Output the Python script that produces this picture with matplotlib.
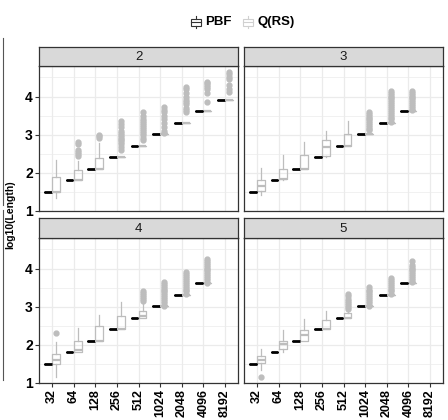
import numpy as np
import matplotlib
matplotlib.use('Agg')
import matplotlib.pyplot as plt
from matplotlib.patches import Rectangle
from matplotlib.lines import Line2D

plt.rcParams['font.family'] = ['Liberation Sans', 'DejaVu Sans']

# categories and facets
sizes = [32, 64, 128, 256, 512, 1024, 2048, 4096, 8192]
panels = ['2', '3', '4', '5']
pbf_counts = {'2': 9, '3': 8, '4': 8, '5': 8}   # how many sizes each facet has

# Q(RS) box statistics per facet: q1, median, q3, lower/upper whisker (log10 Length)
qrs_q1 = {
    '2': [1.505, 1.806, 2.107, 2.408, 2.709, 3.010, 3.311, 3.612, 3.913],
    '3': [1.53, 1.83, 2.107, 2.45, 2.709, 3.010, 3.311, 3.612],
    '4': [1.505, 1.81, 2.107, 2.408, 2.709, 3.010, 3.311, 3.612],
    '5': [1.52, 1.90, 2.11, 2.408, 2.709, 3.010, 3.311, 3.612],
}
qrs_med = {
    '2': [1.505, 1.806, 2.107, 2.408, 2.709, 3.010, 3.311, 3.612, 3.913],
    '3': [1.66, 1.83, 2.107, 2.68, 2.709, 3.010, 3.311, 3.612],
    '4': [1.59, 1.87, 2.107, 2.408, 2.75, 3.010, 3.311, 3.612],
    '5': [1.61, 2.01, 2.26, 2.408, 2.709, 3.010, 3.311, 3.612],
}
qrs_q3 = {
    '2': [1.88, 2.07, 2.40, 2.408, 2.709, 3.010, 3.311, 3.612, 3.913],
    '3': [1.81, 2.11, 2.46, 2.86, 3.02, 3.010, 3.311, 3.612],
    '4': [1.77, 2.10, 2.49, 2.75, 2.88, 3.010, 3.311, 3.612],
    '5': [1.70, 2.11, 2.40, 2.64, 2.83, 3.010, 3.311, 3.612],
}
qrs_lo = {
    '2': [1.34, 1.806, 2.107, 2.408, 2.709, 3.010, 3.311, 3.612, 3.913],
    '3': [1.42, 1.806, 2.107, 2.408, 2.709, 3.010, 3.311, 3.612],
    '4': [1.16, 1.806, 2.107, 2.408, 2.709, 3.010, 3.311, 3.612],
    '5': [1.33, 1.82, 2.107, 2.408, 2.709, 3.010, 3.311, 3.612],
}
qrs_hi = {
    '2': [2.34, 2.30, 2.78, 2.408, 2.709, 3.010, 3.311, 3.612, 3.913],
    '3': [2.13, 2.46, 2.80, 3.09, 3.36, 3.010, 3.311, 3.612],
    '4': [2.07, 2.44, 2.79, 3.11, 3.10, 3.010, 3.311, 3.612],
    '5': [1.90, 2.39, 2.67, 2.88, 2.93, 3.010, 3.311, 3.612],
}
qrs_out = {
    '2': [[], [2.45, 2.5, 2.55, 2.6, 2.75, 2.8], [2.92, 2.97, 3.0],
          [2.60, 2.68, 2.75, 2.8, 2.85, 2.9, 2.95, 3.0, 3.05, 3.1, 3.2, 3.28, 3.35],
          [2.86, 2.92, 3.0, 3.05, 3.1, 3.15, 3.2, 3.25, 3.3, 3.35, 3.4, 3.5, 3.6],
          [3.05, 3.1, 3.2, 3.3, 3.4, 3.5, 3.6, 3.65, 3.72],
          [3.6, 3.65, 3.7, 3.8, 3.85, 3.9, 4.0, 4.1, 4.2, 4.25],
          [3.85, 4.1, 4.2, 4.25, 4.3, 4.35, 4.38],
          [4.12, 4.2, 4.3, 4.45, 4.52, 4.6, 4.64]],
    '3': [[], [], [], [], [],
          [3.11, 3.15, 3.2, 3.25, 3.3, 3.35, 3.4, 3.45, 3.5, 3.55, 3.59],
          [3.33, 3.4, 3.45, 3.5, 3.55, 3.6, 3.65, 3.7, 3.75, 3.8, 3.85, 3.9, 3.95, 4.0, 4.05, 4.1, 4.14],
          [3.65, 3.7, 3.75, 3.8, 3.85, 3.9, 3.95, 4.0, 4.05, 4.1, 4.15]],
    '4': [[2.32], [], [], [],
          [3.15, 3.2, 3.25, 3.3, 3.35, 3.42],
          [3.03, 3.1, 3.15, 3.2, 3.25, 3.3, 3.35, 3.4, 3.45, 3.5, 3.55, 3.6, 3.64],
          [3.34, 3.4, 3.45, 3.5, 3.55, 3.6, 3.65, 3.7, 3.75, 3.8, 3.85, 3.9],
          [3.62, 3.7, 3.75, 3.8, 3.85, 3.9, 3.95, 4.0, 4.05, 4.1, 4.15, 4.2, 4.24]],
    '5': [[1.16], [], [], [],
          [2.95, 3.0, 3.05, 3.1, 3.15, 3.2, 3.27, 3.34],
          [3.03, 3.1, 3.15, 3.2, 3.25, 3.3, 3.35, 3.4, 3.45, 3.51],
          [3.33, 3.4, 3.45, 3.5, 3.55, 3.6, 3.65, 3.7, 3.75],
          [3.65, 3.7, 3.75, 3.8, 3.85, 3.9, 3.95, 4.0, 4.05, 4.1, 4.19]],
}

BLACK = '#000000'
GREY = '#BDBDBD'
W, H = 448, 420

fig = plt.figure(figsize=(W / 100, H / 100), dpi=100)
fig.patch.set_facecolor('white')


def rect(x0, y0, x1, y1):
    return [x0 / W, 1 - y1 / H, (x1 - x0) / W, (y1 - y0) / H]


# pixel boxes of each facet: (left, right, strip top, plot top, plot bottom)
boxes = {
    '2': (39, 238, 47, 66, 211),
    '3': (244, 443, 47, 66, 211),
    '4': (39, 238, 218, 238, 383),
    '5': (244, 443, 218, 238, 383),
}

for p in panels:
    x0, x1, s0, t0, b0 = boxes[p]
    ax = fig.add_axes(rect(x0, t0, x1, b0))
    ax.set_facecolor('white')
    ax.set_xlim(0.4, 9.6)
    ax.set_ylim(1, 4.8)
    ax.set_yticks([1, 2, 3, 4])
    ax.set_yticks([1.5, 2.5, 3.5, 4.5], minor=True)
    ax.set_xticks(range(1, 10))
    ax.grid(True, which='major', color='#EBEBEB', lw=0.9, zorder=0)
    ax.grid(True, which='minor', axis='y', color='#EBEBEB', lw=0.5, zorder=0)
    ax.set_axisbelow(True)
    for s in ax.spines.values():
        s.set_color('#333333')
        s.set_linewidth(0.9)
    ax.tick_params(which='minor', length=0)
    ax.tick_params(which='major', length=3, width=0.8, color='#333333', pad=1.5)
    ax.tick_params(axis='y', labelsize=10)
    ax.tick_params(axis='x', labelsize=9)

    n = pbf_counts[p]
    pos = np.arange(1, n + 1)
    pbf_vals = np.log10(sizes[:n])
    pbf_stats = [dict(q1=v, med=v, q3=v, whislo=v, whishi=v, fliers=[]) for v in pbf_vals]
    ax.bxp(pbf_stats, positions=pos - 0.1875, widths=0.36, showfliers=False,
           boxprops=dict(color=BLACK, lw=0.6), medianprops=dict(color=BLACK, lw=2.0),
           whiskerprops=dict(color=BLACK), capprops=dict(lw=0), manage_ticks=False)

    qstats = []
    for i in range(n):
        qstats.append(dict(q1=qrs_q1[p][i], med=qrs_med[p][i], q3=qrs_q3[p][i],
                           whislo=qrs_lo[p][i], whishi=qrs_hi[p][i],
                           fliers=qrs_out[p][i]))
    ax.bxp(qstats, positions=pos + 0.1875, widths=0.36, showfliers=True,
           boxprops=dict(color=GREY, lw=0.9), medianprops=dict(color=GREY, lw=1.6),
           whiskerprops=dict(color=GREY, lw=0.9), capprops=dict(lw=0),
           flierprops=dict(marker='o', markerfacecolor=GREY, markeredgecolor=GREY,
                           markersize=3.5), manage_ticks=False)

    if p in ('2', '4'):
        ax.set_yticklabels(['1', '2', '3', '4'], fontweight='bold', color='black')
    else:
        ax.tick_params(axis='y', left=False, labelleft=False)
    if p in ('4', '5'):
        ax.set_xticklabels([str(s) for s in sizes], rotation=90,
                           fontweight='bold', color='black')
    else:
        ax.tick_params(axis='x', bottom=False, labelbottom=False)

    # facet strip
    sax = fig.add_axes(rect(x0, s0, x1, t0))
    sax.set_facecolor('#D9D9D9')
    sax.set_xticks([])
    sax.set_yticks([])
    for s in sax.spines.values():
        s.set_color('#333333')
        s.set_linewidth(0.9)
    sax.text(0.5, 0.45, p, ha='center', va='center', fontsize=9.5, color='#1A1A1A',
             transform=sax.transAxes)

fig.text(10 / W, 1 - 215 / H, 'log10(Length)', rotation=90, ha='center', va='center',
         fontsize=7.5, fontweight='bold')

# legend drawn on an overlay in pixel units
lax = fig.add_axes([0, 0, 1, 1])
lax.set_xlim(0, W)
lax.set_ylim(H, 0)
lax.axis('off')
for x, c, lab, tx in [(196, '#333333', 'PBF', 205), (248, '#D0D0D0', 'Q(RS)', 258)]:
    lax.add_patch(Rectangle((x - 5, 18.5), 10, 7, fill=False, ec=c, lw=0.8))
    lax.add_line(Line2D([x - 5, x + 5], [22, 22], color=c, lw=0.8))
    lax.add_line(Line2D([x, x], [16, 18.5], color=c, lw=0.8))
    lax.add_line(Line2D([x, x], [25.5, 28], color=c, lw=0.8))
    lax.text(tx, 22, lab, ha='left', va='center', fontsize=9.5, fontweight='bold')

# edges of the neighbouring figure at the far left
lax.add_line(Line2D([2.5, 2.5], [38, 205], color='#555555', lw=0.8))
lax.add_line(Line2D([2.5, 2.5], [210, 380], color='#555555', lw=0.8))

fig.savefig('out.png', dpi=100, facecolor='white')
